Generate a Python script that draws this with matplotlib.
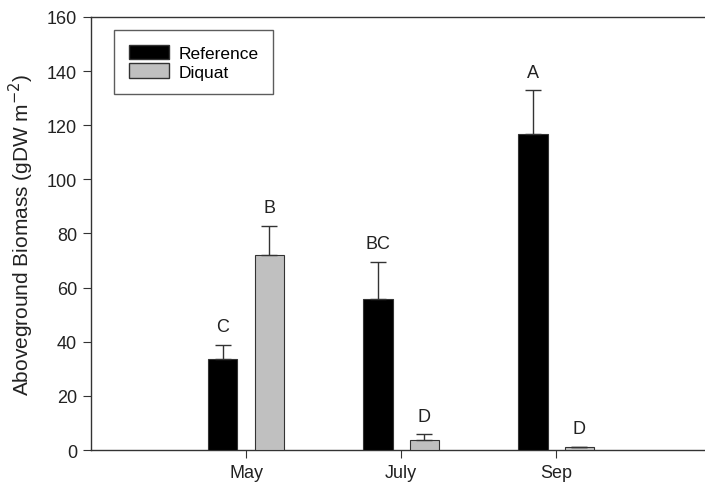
import numpy as np
import matplotlib.pyplot as plt
from matplotlib.patches import Patch

plt.rcParams['font.family'] = ['Liberation Sans', 'DejaVu Sans']

months = ['May', 'July', 'Sep']
reference = [33.5, 55.7, 116.7]
reference_se = [5.4, 13.8, 16.3]
diquat = [72.0, 3.8, 1.0]
diquat_se = [10.8, 2.0, 0.3]
ref_letters = ['C', 'BC', 'A']
diq_letters = ['B', 'D', 'D']

fig = plt.figure(figsize=(7.05, 4.85), dpi=100)
ax = fig.add_axes([0.129, 0.070, 0.871, 0.893])

x = np.arange(1, len(months) + 1)
w = 0.19
off = 0.15
edge = '#333333'
ekw = dict(ecolor=edge, elinewidth=1, capsize=6, capthick=1)

ax.bar(x - off, reference, w, color='black', edgecolor=edge, linewidth=0.8,
       yerr=[np.zeros(3), reference_se], error_kw=ekw, zorder=3)
ax.bar(x + off, diquat, w, color='#c0c0c0', edgecolor=edge, linewidth=0.8,
       yerr=[np.zeros(3), diquat_se], error_kw=ekw, zorder=3)

# significance letters above the error bars
for xi, m, e, t in zip(x - off, reference, reference_se, ref_letters):
    ax.text(xi, m + e + 3.5, t, ha='center', va='bottom', fontsize=13, color='#222222')
for xi, m, e, t in zip(x + off, diquat, diquat_se, diq_letters):
    ax.text(xi, m + e + 3.5, t, ha='center', va='bottom', fontsize=13, color='#222222')

ax.set_xlim(0, 3.96)
ax.set_ylim(0, 160)
ax.set_yticks(np.arange(0, 161, 20))
ax.set_xticks(x)
ax.set_xticklabels(months)
ax.tick_params(axis='both', direction='out', labelsize=13, colors='#333333', labelcolor='#222222')
ax.tick_params(axis='y', length=6, pad=4)
ax.tick_params(axis='x', length=6, pad=4)
ax.spines['right'].set_visible(False)
for s in ['left', 'top', 'bottom']:
    ax.spines[s].set_color('#333333')
    ax.spines[s].set_linewidth(1)

ax.set_ylabel('Aboveground Biomass (gDW m$^{-2}$)', fontsize=15, color='#222222', labelpad=8)

handles = [Patch(facecolor='black', edgecolor=edge, label='Reference'),
           Patch(facecolor='#c0c0c0', edgecolor=edge, label='Diquat')]
leg = ax.legend(handles=handles, loc='upper left', bbox_to_anchor=(0.038, 0.97),
                fontsize=12.5, frameon=True, fancybox=False, edgecolor='#333333',
                handlelength=2.3, handleheight=0.9, borderpad=0.85, labelspacing=0.15,
                handletextpad=0.55, borderaxespad=0)
leg.get_frame().set_linewidth(1)

fig.savefig('out.png', dpi=100)
